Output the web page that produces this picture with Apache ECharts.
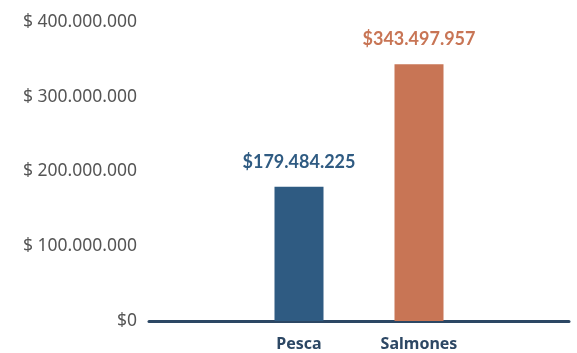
<!DOCTYPE html>
<html><head><meta charset="utf-8">
<script src="https://cdn.jsdelivr.net/npm/echarts@6/dist/echarts.min.js"></script>
<style>html,body{margin:0;padding:0;background:#fff}#c{width:577px;height:353px}</style>
</head><body><div id="c"></div>
<script>
const categories = ['', '', 'Pesca', '', 'Salmones', '', ''];
const values = [null, null, 179484225, null, 343497957, null, null];
const barColors = ['#2f5b82', '#2f5b82', '#2f5b82', '#2f5b82', '#c87555', '#c87555', '#c87555'];
const yTicks = [0, 100000000, 200000000, 300000000, 400000000];

function fmt(v){ return String(v).replace(/\B(?=(\d{3})+(?!\d))/g, '.'); }

const chart = echarts.init(document.getElementById('c'));
chart.setOption({
  animation: false,
  textStyle: { fontFamily: 'Noto Sans' },
  grid: { left: 149, right: 8, top: 22, bottom: 32 },
  xAxis: {
    type: 'category', data: categories,
    axisLine: { lineStyle: { color: '#2c4764', width: 3 } },
    axisTick: { show: false },
    axisLabel: { interval: 0, color: '#2c4764', fontSize: 16, fontWeight: 'bold', margin: 15, fontFamily: 'Noto Sans' }
  },
  yAxis: {
    type: 'value', min: yTicks[0], max: yTicks[yTicks.length-1], interval: yTicks[1]-yTicks[0],
    splitLine: { show: false }, axisLine: { show: false }, axisTick: { show: false },
    axisLabel: { color: '#555', fontSize: 17.5, margin: 12, fontFamily: 'Noto Sans',
      formatter: v => v === 0 ? '$0' : '$ ' + fmt(v) }
  },
  series: [{
    type: 'bar', barWidth: 49,
    data: values.map((v, i) => ({ value: v, itemStyle: { color: barColors[i] },
      label: { color: barColors[i] } })),
    label: { show: true, position: 'top', distance: 16, fontSize: 18, fontWeight: 'bold', fontFamily: 'Lato',
      formatter: p => '$' + fmt(p.value) }
  }]
});
</script></body></html>
